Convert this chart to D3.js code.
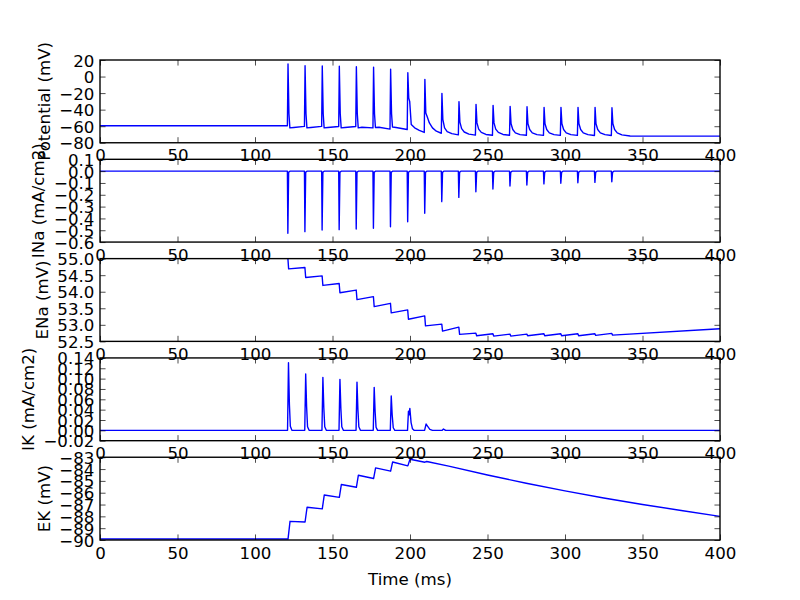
<!DOCTYPE html>
<html><head><meta charset="utf-8">
<script src="https://cdn.jsdelivr.net/npm/d3@7"></script>
<style>body{margin:0;background:#fff}svg{display:block}</style>
</head><body><svg id="c" width="800" height="600"></svg>
<script>
// ---------- DATA ----------
const xTicks = [0, 50, 100, 150, 200, 250, 300, 350, 400];
const xLabel = "Time (ms)";

const potentialTicks = [20, 0, -20, -40, -60, -80];
const inaTicks = [0.1, 0.0, -0.1, -0.2, -0.3, -0.4, -0.5, -0.6];
const enaTicks = [55.0, 54.5, 54.0, 53.5, 53.0, 52.5];
const ikTicks = [0.14, 0.12, 0.10, 0.08, 0.06, 0.04, 0.02, 0.00, -0.02];
const ekTicks = [-83, -84, -85, -86, -87, -88, -89, -90];

const panelLabels = ["Potential (mV)", "INa (mA/cm2)", "ENa (mV)", "IK (mA/cm2)", "EK (mV)"];

// [time ms, value]
const potentialTrace = [
[0,-59.5],[120.9,-59.5],[121.3,15.2],[121.9,-45],[122.5,-62],[125,-61.5],[131.9,-60.2],
[132.3,13.1],[132.9,-45],[133.5,-62],[136,-61.5],[143.0,-60.2],
[143.4,12.7],[144.0,-45],[144.6,-62],[147,-61.5],[154.0,-60.3],
[154.4,12.4],[155.0,-45],[155.6,-62],[158,-61.5],[165.0,-60.4],
[165.4,11.9],[166.0,-45],[166.6,-62],[169,-61.3],[176.1,-62],
[176.5,11.2],[177.1,-45],[177.7,-61.5],[180,-61.3],[187.1,-63.5],
[187.5,8.8],[188.1,-45],[188.7,-61],[191,-61.5],[198.2,-64],
[198.6,4.7],[199.2,-26],[199.8,-30],[200.8,-58],[203,-62],[206,-65],[209.2,-67.5],
[209.6,-3.4],[210.2,-44],[211,-48],[212.5,-56],[214.5,-62],[217,-66],[220.2,-68.5],
[220.6,-20.3],[221.2,-52],[222.3,-62],[224,-66.5],[227,-69],[231.2,-70.5],
[231.6,-30.3],[232.2,-55],[233.3,-63],[235,-67],[238,-69.5],[242.2,-70.8],
[242.6,-33.6],[243.2,-56],[244.3,-63.5],[246,-67.5],[249,-70],[253.2,-71],
[253.6,-34.8],[254.2,-56],[255.3,-63.5],[257,-67.5],[260,-70],[264.2,-71],
[264.6,-36],[265.2,-57],[266.3,-64],[268,-68],[271,-70.2],[275.1,-71],
[275.5,-36.4],[276.1,-57],[277.2,-64],[278.9,-68],[281.9,-70.2],[286.1,-71.1],
[286.5,-37.2],[287.1,-57],[288.2,-64],[289.9,-68],[292.9,-70.2],[297.0,-71.1],
[297.4,-37.2],[298.0,-57],[299.1,-64],[300.8,-68],[303.8,-70.2],[308.0,-71.1],
[308.4,-37.2],[309.0,-57],[310.1,-64],[311.8,-68],[314.8,-70.2],[319.0,-71.2],
[319.4,-37.2],[320.0,-57],[321.1,-64],[322.8,-68],[325.8,-70.2],[329.9,-71.2],
[330.3,-37.6],[330.9,-57],[332,-64],[333.7,-68],[336.7,-70.5],[342,-71.8],[400,-72]
];

const inaTrace = [
[0,0],[120.9,0],[121.2,-0.526],[121.7,-0.01],[122.5,0],
[131.9,0],[132.2,-0.512],[132.7,-0.01],[133.5,0],
[143.0,0],[143.3,-0.498],[143.8,-0.01],[144.6,0],
[154.0,0],[154.3,-0.495],[154.8,-0.01],[155.6,0],
[165.0,0],[165.3,-0.49],[165.8,-0.01],[166.6,0],
[176.1,0],[176.4,-0.484],[176.9,-0.01],[177.7,0],
[187.1,0],[187.4,-0.47],[187.9,-0.01],[188.7,0],
[198.2,0],[198.5,-0.428],[199.0,-0.01],[199.8,0],
[209.2,0],[209.5,-0.357],[210.0,-0.01],[210.8,0],
[220.2,0],[220.5,-0.258],[221.0,-0.01],[221.8,0],
[231.2,0],[231.5,-0.222],[232.0,-0.01],[232.8,0],
[242.2,0],[242.5,-0.174],[243.0,-0.01],[243.8,0],
[253.2,0],[253.5,-0.151],[254.0,-0.01],[254.8,0],
[264.2,0],[264.5,-0.126],[265.0,-0.01],[265.8,0],
[275.1,0],[275.4,-0.117],[275.9,-0.01],[276.7,0],
[286.1,0],[286.4,-0.108],[286.9,-0.01],[287.7,0],
[297.0,0],[297.3,-0.103],[297.8,-0.01],[298.6,0],
[308.0,0],[308.3,-0.098],[308.8,-0.01],[309.6,0],
[319.0,0],[319.3,-0.095],[319.8,-0.01],[320.6,0],
[329.9,0],[330.2,-0.09],[330.7,-0.01],[331.5,0],[400,0]
];

const enaTrace = [
[0,55.02],[121.2,55.02],[121.7,54.69],[132.2,54.73],[132.7,54.43],[143.3,54.48],[143.8,54.19],
[154.3,54.25],[154.8,53.97],[165.3,54.05],[165.8,53.76],[176.4,53.85],[176.9,53.55],
[187.4,53.65],[187.9,53.36],[198.5,53.45],[199.0,53.17],[209.5,53.27],[210.0,52.97],
[220.5,53.02],[221.0,52.81],[231.5,52.93],[232.0,52.71],[242.5,52.75],[243.0,52.67],
[253.5,52.73],[254.0,52.66],[264.5,52.72],[265.0,52.66],[275.4,52.72],[275.9,52.67],
[286.4,52.73],[286.9,52.67],[297.3,52.73],[297.8,52.67],[308.3,52.73],[308.8,52.67],
[319.3,52.73],[319.8,52.68],[330.2,52.74],[330.7,52.69],[400,52.88]
];

const ikTrace = [
[0,0],[121.0,0],[121.6,0.1307],[122.2,0.05],[122.8,0.008],[123.8,0],
[132.1,0],[132.7,0.1089],[133.3,0.045],[133.9,0.007],[134.9,0],
[143.2,0],[143.8,0.1025],[144.4,0.043],[145.0,0.007],[146.0,0],
[154.2,0],[154.8,0.0986],[155.4,0.042],[156.0,0.007],[157.0,0],
[165.2,0],[165.8,0.0932],[166.4,0.04],[167.0,0.007],[168.0,0],
[176.3,0],[176.9,0.0831],[177.5,0.036],[178.1,0.006],[179.1,0],
[187.3,0],[187.9,0.0663],[188.5,0.03],[189.2,0.005],[190.2,0],
[198.4,0],[199.0,0.037],[199.4,0.03],[199.9,0.0425],[200.7,0.015],[201.6,0.003],[202.6,0],
[209.4,0],[210.4,0.0122],[211.3,0.008],[212.8,0.002],[214.5,0],
[220.8,0],[221.6,0.0025],[223,0],[400,0]
];

const ekTrace = [
[0,-89.92],[121.3,-89.92],[122.6,-88.42],[132.3,-88.48],[133.6,-87.23],[143.4,-87.37],[144.7,-86.19],
[154.4,-86.39],[155.7,-85.31],[165.4,-85.54],[166.7,-84.52],[176.5,-84.8],[177.8,-83.9],
[187.5,-84.18],[188.8,-83.4],[198.6,-83.73],[200.0,-83.17],[209.6,-83.42],[210.8,-83.36],
[225,-83.75],[250,-84.5],[275,-85.2],[300,-85.85],[325,-86.45],[350,-87.0],[375,-87.5],[400,-88.0]
];

// ---------- CHART ----------
const panels = [
  {label: panelLabels[0], domain: [-80, 20], ticks: potentialTicks, fmt: d3.format("d"), data: potentialTrace},
  {label: panelLabels[1], domain: [-0.6, 0.1], ticks: inaTicks, fmt: d3.format(".1f"), data: inaTrace},
  {label: panelLabels[2], domain: [52.5, 55.0], ticks: enaTicks, fmt: d3.format(".1f"), data: enaTrace},
  {label: panelLabels[3], domain: [-0.02, 0.14], ticks: ikTicks, fmt: d3.format(".2f"), data: ikTrace},
  {label: panelLabels[4], domain: [-90, -83], ticks: ekTicks, fmt: d3.format("d"), data: ekTrace}
];

const svg = d3.select("#c");
svg.append("rect").attr("width", 800).attr("height", 600).attr("fill", "#fff");
const L = 100, R = 720, T = 60, B = 540;
const H = (B - T) / 5.8;
const FS = 16.67, TICK = 5.56, PAD = 5.56;
const FONT = "DejaVu Sans";
const x = d3.scaleLinear().domain([0, 400]).range([L, R]);

function styleAxis(a, keepText, dy) {
  a.attr("font-size", FS).attr("font-family", FONT);
  a.select(".domain").remove();
  a.selectAll("line").attr("stroke", "#000").attr("stroke-width", 0.7);
  if (!keepText) a.selectAll("text").remove();
  else a.selectAll("text").attr("fill", "#000").attr("dy", dy);
}

panels.forEach((p, i) => {
  const top = T + i * H * 1.2, bot = top + H;
  const y = d3.scaleLinear().domain(p.domain).range([bot, top]);
  const g = svg.append("g");
  const cid = "clip" + i;
  svg.append("clipPath").attr("id", cid).append("rect")
    .attr("x", L).attr("y", top).attr("width", R - L).attr("height", H);

  g.append("path").datum(p.data)
    .attr("clip-path", `url(#${cid})`)
    .attr("fill", "none").attr("stroke", "#0000ff").attr("stroke-width", 1.39)
    .attr("stroke-linejoin", "round")
    .attr("d", d3.line().x(d => x(d[0])).y(d => y(d[1])));

  const bottom = g.append("g").attr("transform", `translate(0,${bot})`)
    .call(d3.axisBottom(x).tickValues(xTicks).tickSizeInner(-TICK).tickSizeOuter(0).tickPadding(PAD).tickFormat(d3.format("d")));
  styleAxis(bottom, true, "0.78em");
  const topAx = g.append("g").attr("transform", `translate(0,${top})`)
    .call(d3.axisTop(x).tickValues(xTicks).tickSizeInner(-TICK).tickSizeOuter(0));
  styleAxis(topAx, false);
  const left = g.append("g").attr("transform", `translate(${L},0)`)
    .call(d3.axisLeft(y).tickValues(p.ticks).tickSizeInner(-TICK).tickSizeOuter(0).tickPadding(PAD).tickFormat(p.fmt));
  styleAxis(left, true, "0.36em");
  const right = g.append("g").attr("transform", `translate(${R},0)`)
    .call(d3.axisRight(y).tickValues(p.ticks).tickSizeInner(-TICK).tickSizeOuter(0));
  styleAxis(right, false);

  g.append("rect").attr("x", L).attr("y", top).attr("width", R - L).attr("height", H)
    .attr("fill", "none").attr("stroke", "#000").attr("stroke-width", 1.39);

  let minX = Infinity;
  left.selectAll("text").each(function () {
    const bb = this.getBBox();
    minX = Math.min(minX, L + bb.x);
  });
  const lx = minX - PAD - 0.236 * FS;
  g.append("text")
    .attr("transform", `translate(${lx},${(top + bot) / 2}) rotate(-90)`)
    .attr("text-anchor", "middle")
    .attr("font-family", FONT).attr("font-size", FS).attr("fill", "#000")
    .text(p.label);
});

svg.append("text").attr("x", (L + R) / 2).attr("y", 585)
  .attr("text-anchor", "middle").attr("font-family", FONT).attr("font-size", FS).attr("fill", "#000")
  .text(xLabel);
</script>
</body></html>
